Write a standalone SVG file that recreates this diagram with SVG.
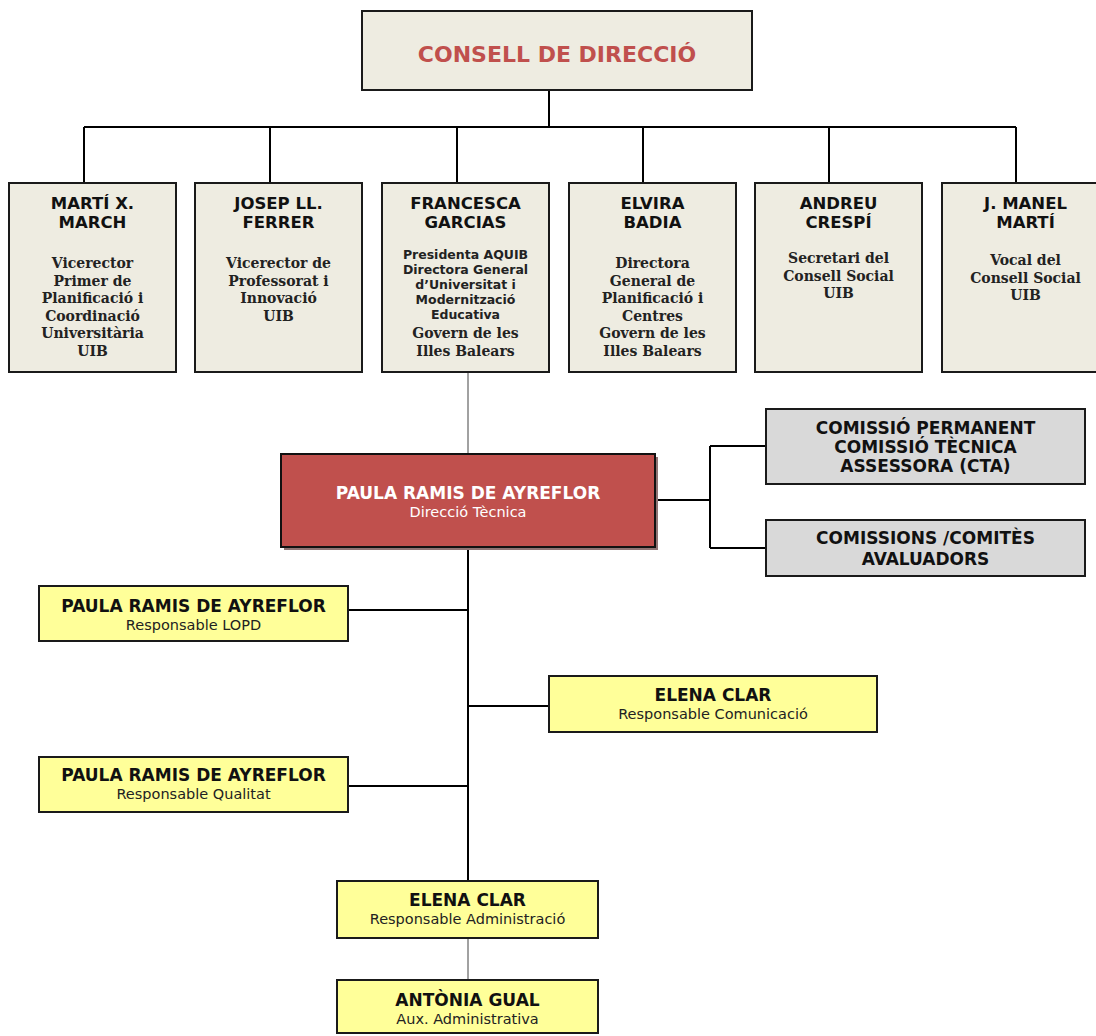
<svg xmlns="http://www.w3.org/2000/svg" width="1096" height="1036" viewBox="0 0 1096 1036">
<style>
.bg{fill:#ffffff}
.top{fill:#eeece1;stroke:#1a1a1a;stroke-width:2}
.gray{fill:#d9d9d9;stroke:#1a1a1a;stroke-width:2}
.yel{fill:#ffff99;stroke:#1a1a1a;stroke-width:2}
.red{fill:#c0504d;stroke:#111;stroke-width:2}
.ln{stroke:#000;stroke-width:2;fill:none}
.thin{stroke:#444;stroke-width:1;fill:none}
.nm{font-family:"DejaVu Sans",Verdana,sans-serif;font-weight:bold;font-size:16.5px;fill:#111;text-anchor:middle}
.nb{font-family:"DejaVu Sans",Verdana,sans-serif;font-weight:bold;font-size:17px;fill:#111;text-anchor:middle}
.sr{font-family:"DejaVu Serif",Georgia,serif;font-weight:bold;font-size:14px;fill:#222;text-anchor:middle}
.sm{font-family:"DejaVu Sans",Verdana,sans-serif;font-weight:bold;font-size:12.5px;fill:#222;text-anchor:middle}
.rg{font-family:"DejaVu Sans",Verdana,sans-serif;font-size:14.5px;fill:#222;text-anchor:middle}
</style>
<rect class="bg" x="0" y="0" width="1096" height="1036"/>
<g id="connectors">
<path class="ln" d="M549 90V127M84 127H1016M84 127V183M270 127V183M457 127V183M643 127V183M829 127V183M1016 127V183"/>
<path class="thin" d="M468 372V454"/>
<path class="ln" d="M655 500H710M710 446V548M710 446H766M710 548H766"/>
<path class="ln" d="M468 547V881M348 610H468M468 706H549M348 786H468"/>
<path class="thin" d="M468 938V980"/>
</g>
<g id="consell">
<rect class="top" x="362" y="11" width="390" height="79"/>
<text x="557" y="62" font-family="DejaVu Sans,Verdana,sans-serif" font-weight="bold" font-size="22" fill="#c0504d" text-anchor="middle">CONSELL DE DIRECCIÓ</text>
</g>
<g id="marti-march">
<rect class="top" x="9" y="183" width="167" height="189"/>
<text class="nm" x="92.5" y="209">MARTÍ X.</text>
<text class="nm" x="92.5" y="228">MARCH</text>
<text class="sr" x="92.5" y="268">Vicerector</text>
<text class="sr" x="92.5" y="285.5">Primer de</text>
<text class="sr" x="92.5" y="303">Planificació i</text>
<text class="sr" x="92.5" y="320.5">Coordinació</text>
<text class="sr" x="92.5" y="338">Universitària</text>
<text class="sr" x="92.5" y="355.5">UIB</text>
</g>
<g id="josep-ferrer">
<rect class="top" x="195" y="183" width="167" height="189"/>
<text class="nm" x="278.5" y="209">JOSEP LL.</text>
<text class="nm" x="278.5" y="228">FERRER</text>
<text class="sr" x="278.5" y="268">Vicerector de</text>
<text class="sr" x="278.5" y="285.5">Professorat i</text>
<text class="sr" x="278.5" y="303">Innovació</text>
<text class="sr" x="278.5" y="320.5">UIB</text>
</g>
<g id="francesca-garcias">
<rect class="top" x="382" y="183" width="167" height="189"/>
<text class="nm" x="465.5" y="209">FRANCESCA</text>
<text class="nm" x="465.5" y="228">GARCIAS</text>
<text class="sm" x="465.5" y="259">Presidenta AQUIB</text>
<text class="sm" x="465.5" y="274">Directora General</text>
<text class="sm" x="465.5" y="289">d’Universitat i</text>
<text class="sm" x="465.5" y="304">Modernització</text>
<text class="sm" x="465.5" y="319">Educativa</text>
<text class="sr" x="465.5" y="338">Govern de les</text>
<text class="sr" x="465.5" y="355.5">Illes Balears</text>
</g>
<g id="elvira-badia">
<rect class="top" x="569" y="183" width="167" height="189"/>
<text class="nm" x="652.5" y="209">ELVIRA</text>
<text class="nm" x="652.5" y="228">BADIA</text>
<text class="sr" x="652.5" y="268">Directora</text>
<text class="sr" x="652.5" y="285.5">General de</text>
<text class="sr" x="652.5" y="303">Planificació i</text>
<text class="sr" x="652.5" y="320.5">Centres</text>
<text class="sr" x="652.5" y="338">Govern de les</text>
<text class="sr" x="652.5" y="355.5">Illes Balears</text>
</g>
<g id="andreu-crespi">
<rect class="top" x="755" y="183" width="167" height="189"/>
<text class="nm" x="838.5" y="209">ANDREU</text>
<text class="nm" x="838.5" y="228">CRESPÍ</text>
<text class="sr" x="838.5" y="263">Secretari del</text>
<text class="sr" x="838.5" y="280.5">Consell Social</text>
<text class="sr" x="838.5" y="298">UIB</text>
</g>
<g id="manel-marti">
<rect class="top" x="942" y="183" width="167" height="189"/>
<text class="nm" x="1025.5" y="209">J. MANEL</text>
<text class="nm" x="1025.5" y="228">MARTÍ</text>
<text class="sr" x="1025.5" y="265">Vocal del</text>
<text class="sr" x="1025.5" y="282.5">Consell Social</text>
<text class="sr" x="1025.5" y="300">UIB</text>
</g>
<g id="direccio-tecnica">
<rect x="284" y="457" width="374" height="93" fill="#8f7474"/>
<rect class="red" x="281" y="454" width="374" height="93"/>
<text class="nb" x="468" y="499" style="fill:#ffffff">PAULA RAMIS DE AYREFLOR</text>
<text class="rg" x="468" y="517" style="fill:#ffffff">Direcció Tècnica</text>
</g>
<g id="comissio-permanent">
<rect class="gray" x="766" y="409" width="319" height="75"/>
<text class="nb" x="925.5" y="434">COMISSIÓ PERMANENT</text>
<text class="nb" x="925.5" y="453">COMISSIÓ TÈCNICA</text>
<text class="nb" x="925.5" y="472">ASSESSORA (CTA)</text>
</g>
<g id="comissions-comites">
<rect class="gray" x="766" y="520" width="319" height="56"/>
<text class="nb" x="925.5" y="544">COMISSIONS /COMITÈS</text>
<text class="nb" x="925.5" y="565">AVALUADORS</text>
</g>
<g id="resp-lopd">
<rect class="yel" x="39" y="586" width="309" height="55"/>
<text class="nb" x="193.5" y="612">PAULA RAMIS DE AYREFLOR</text>
<text class="rg" x="193.5" y="630">Responsable LOPD</text>
</g>
<g id="resp-comunicacio">
<rect class="yel" x="549" y="676" width="328" height="56"/>
<text class="nb" x="713" y="701">ELENA CLAR</text>
<text class="rg" x="713" y="719">Responsable Comunicació</text>
</g>
<g id="resp-qualitat">
<rect class="yel" x="39" y="757" width="309" height="55"/>
<text class="nb" x="193.5" y="781">PAULA RAMIS DE AYREFLOR</text>
<text class="rg" x="193.5" y="799">Responsable Qualitat</text>
</g>
<g id="resp-administracio">
<rect class="yel" x="337" y="881" width="261" height="57"/>
<text class="nb" x="467.5" y="906">ELENA CLAR</text>
<text class="rg" x="467.5" y="924">Responsable Administració</text>
</g>
<g id="aux-administrativa">
<rect class="yel" x="337" y="980" width="261" height="53"/>
<text class="nb" x="467.5" y="1006">ANTÒNIA GUAL</text>
<text class="rg" x="467.5" y="1024">Aux. Administrativa</text>
</g>
</svg>
